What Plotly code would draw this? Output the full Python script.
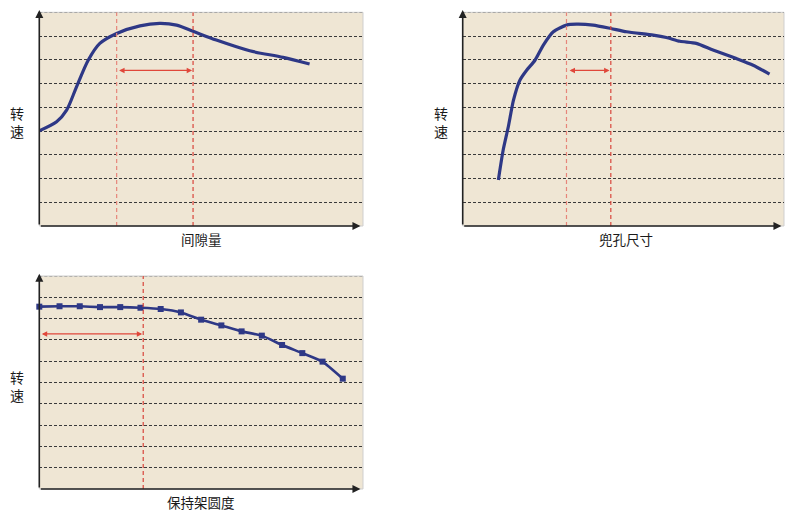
import plotly.graph_objects as go

# ---------------- data ----------------
# Chart 1: speed vs clearance (间隙量)
gap_x = [0, 5.35, 8.44, 11.5, 15.1, 18.7, 23.9, 31.1, 37.2, 42.4, 47.5, 54.7, 65.0, 75.3, 83.5]
gap_y = [4.01, 4.39, 4.88, 5.86, 6.98, 7.69, 8.11, 8.43, 8.53, 8.46, 8.20, 7.83, 7.38, 7.10, 6.82]
gap_marks = [23.9, 47.5]

# Chart 2: speed vs pocket size (兜孔尺寸)
pocket_x = [11.1, 12.6, 14.2, 15.8, 17.8, 19.9, 22.5, 25.1, 28.2, 32.3, 35.4, 40.6, 46.1,
            51.0, 59.3, 63.4, 67.6, 72.7, 77.9, 85.2, 90.4, 95.5]
pocket_y = [1.94, 3.20, 4.18, 5.30, 6.14, 6.56, 6.98, 7.62, 8.18, 8.46, 8.50, 8.46, 8.32,
            8.18, 8.04, 7.94, 7.78, 7.69, 7.41, 7.05, 6.77, 6.40]
pocket_marks = [32.3, 46.1]

# Chart 3: speed vs cage roundness (保持架圆度)
round_x = [0, 6.25, 12.5, 18.75, 25.0, 31.25, 37.5, 43.75, 50.0, 56.25, 62.5, 68.75,
           75.0, 81.25, 87.5, 93.75]
round_y = [8.56, 8.58, 8.58, 8.54, 8.54, 8.51, 8.45, 8.29, 7.95, 7.68, 7.40, 7.20,
           6.76, 6.38, 5.98, 5.18]
round_marks = [32.1]

y_label = "转<br>速"
x_titles = ["间隙量", "兜孔尺寸", "保持架圆度"]

# ---------------- style ----------------
W, H = 785, 511
BG = "#EFE6D4"
NAVY = "#2E3886"
RED_L = "#E7857A"
RED_D = "#D8443A"
GRID = "#3a3a3a"
AX = "#222222"
FONT = "Noto Sans CJK SC"

def px_x(p):
    return p / W

def px_y(p):
    return 1 - p / H

fig = go.Figure()

panels = [
    dict(xd=[px_x(39.3), px_x(363)], yd=[px_y(226), px_y(12.3)], ymax=9, xref="x", yref="y"),
    dict(xd=[px_x(462.7), px_x(784)], yd=[px_y(226), px_y(12.3)], ymax=9, xref="x2", yref="y2"),
    dict(xd=[px_x(39.3), px_x(363)], yd=[px_y(489), px_y(276)], ymax=10, xref="x3", yref="y3"),
]

fig.add_trace(go.Scatter(x=gap_x, y=gap_y, mode="lines", line=dict(color=NAVY, width=3.2, shape="spline", smoothing=0.8),
                         xaxis="x", yaxis="y", hoverinfo="skip"))
fig.add_trace(go.Scatter(x=pocket_x, y=pocket_y, mode="lines", line=dict(color=NAVY, width=3.2, shape="spline", smoothing=0.6),
                         xaxis="x2", yaxis="y2", hoverinfo="skip"))
fig.add_trace(go.Scatter(x=round_x, y=round_y, mode="lines+markers", line=dict(color=NAVY, width=2.6, shape="spline", smoothing=0.4),
                         marker=dict(symbol="square", size=6, color=NAVY),
                         xaxis="x3", yaxis="y3", hoverinfo="skip", cliponaxis=False))

layout = dict(width=W, height=H, margin=dict(l=0, r=0, t=0, b=0),
              paper_bgcolor="white", plot_bgcolor=BG, showlegend=False,
              font=dict(family=FONT, size=13, color="#222"))

shapes = []
annotations = []
for i, p in enumerate(panels):
    sfx = "" if i == 0 else str(i + 1)
    layout["xaxis" + sfx] = dict(domain=p["xd"], range=[0, 100], showgrid=False, zeroline=False,
                                 showticklabels=False, ticks="", showline=False, fixedrange=True,
                                 anchor="y" + sfx)
    layout["yaxis" + sfx] = dict(domain=p["yd"], range=[0, p["ymax"]], dtick=1, showgrid=True,
                                 gridcolor=GRID, griddash="3px,2px", gridwidth=1, zeroline=False,
                                 showticklabels=False, ticks="", showline=False, fixedrange=True,
                                 anchor="x" + sfx)
    xr, yr = p["xref"], p["yref"]
    shapes.append(dict(type="rect", xref=xr + " domain", yref=yr + " domain", x0=0, x1=1, y0=0, y1=1,
                       line=dict(color="#cfcfcf", width=1), layer="below"))
    shapes.append(dict(type="line", xref=xr + " domain", yref=yr, x0=0, x1=1, y0=p["ymax"], y1=p["ymax"],
                       line=dict(color="#8a8a8a", width=1, dash="3px,2px"), layer="below"))
    annotations.append(dict(xref=xr, yref=yr, axref=xr, ayref=yr, x=99.2, y=0, ax=0, ay=0,
                            showarrow=True, arrowhead=2, arrowsize=1, arrowwidth=1.6, arrowcolor=AX, text=""))
    annotations.append(dict(xref=xr, yref=yr, axref=xr, ayref=yr, x=0, y=p["ymax"] * 1.011, ax=0, ay=0,
                            showarrow=True, arrowhead=2, arrowsize=1, arrowwidth=1.6, arrowcolor=AX, text=""))
    x0d, x1d = p["xd"]
    y0d, y1d = p["yd"]
    annotations.append(dict(xref="paper", yref="paper", x=x0d - 22 / W, y=(y0d + y1d) / 2 - 3 / H,
                            text=y_label, showarrow=False, font=dict(size=14, family=FONT, color="#1a1a1a"),
                            xanchor="center", yanchor="middle"))
    annotations.append(dict(xref="paper", yref="paper", x=(x0d + x1d) / 2 + (3 / W if i == 1 else 0), y=y0d - 13 / H,
                            text=x_titles[i], showarrow=False, font=dict(size=13.5, family=FONT, color="#1a1a1a"),
                            xanchor="center", yanchor="middle"))

for xv, col in zip(gap_marks, [RED_L, RED_D]):
    shapes.append(dict(type="line", xref="x", yref="y", x0=xv, x1=xv, y0=0, y1=9, line=dict(color=col, width=1.2, dash="4px,3px")))
for xv, col in zip(pocket_marks, [RED_L, RED_D]):
    shapes.append(dict(type="line", xref="x2", yref="y2", x0=xv, x1=xv, y0=0, y1=9, line=dict(color=col, width=1.2, dash="4px,3px")))
for xv in round_marks:
    shapes.append(dict(type="line", xref="x3", yref="y3", x0=xv, x1=xv, y0=0, y1=10, line=dict(color=RED_D, width=1.2, dash="4px,3px")))

def dbl_arrow(xr, yr, xa, xb, yv):
    return dict(xref=xr, yref=yr, axref=xr, ayref=yr, x=xb, y=yv, ax=xa, ay=yv, text="",
                showarrow=True, arrowhead=2, startarrowhead=2, arrowside="end+start",
                arrowsize=0.9, startarrowsize=0.9, arrowwidth=1.2, arrowcolor="#E0473A")

annotations.append(dbl_arrow("x", "y", gap_marks[0] + 0.3, gap_marks[1] - 0.3, 6.55))
annotations.append(dbl_arrow("x2", "y2", pocket_marks[0] + 0.5, pocket_marks[1] - 0.4, 6.55))
annotations.append(dbl_arrow("x3", "y3", 0.3, round_marks[0] - 0.3, 7.28))

layout["shapes"] = shapes
layout["annotations"] = annotations
fig.update_layout(**layout)

fig.write_html("out.html", config={"displayModeBar": False},
               post_script="document.body.style.margin='0';document.body.style.padding='0';")
